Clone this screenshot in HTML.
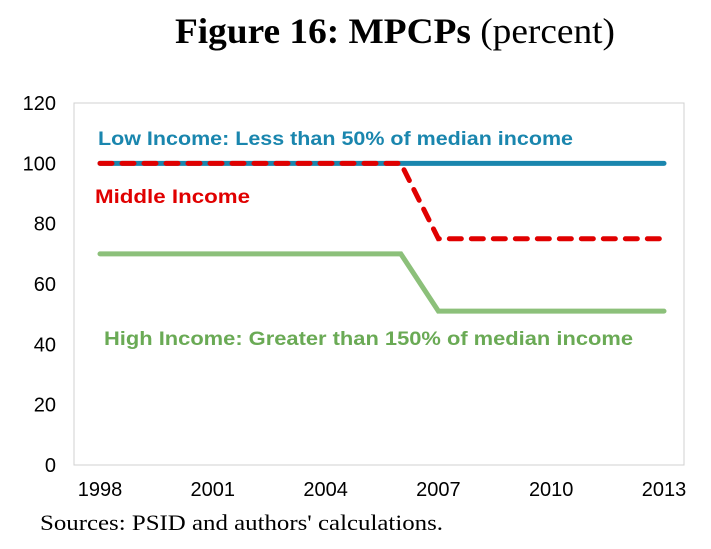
<!DOCTYPE html>
<html><head><meta charset="utf-8"><style>
body{margin:0;background:#fff;width:711px;height:549px;overflow:hidden}
svg{display:block}
</style></head><body>
<svg width="711" height="549" xmlns="http://www.w3.org/2000/svg">
<text x="175" y="43" font-family="Liberation Serif, serif" font-size="36" textLength="440" lengthAdjust="spacingAndGlyphs"><tspan font-weight="bold">Figure 16: MPCPs</tspan> (percent)</text>
<rect x="74" y="103" width="610" height="362" fill="none" stroke="#d0d0d0" stroke-width="1"/>
<g id="yticks"></g><g id="xticks"></g><g id="series"></g>
<text x="98" y="145" font-family="Liberation Sans, sans-serif" font-weight="bold" font-size="19" fill="#1a86ae" textLength="475" lengthAdjust="spacingAndGlyphs">Low Income: Less than 50% of median income</text>
<text x="95" y="203" font-family="Liberation Sans, sans-serif" font-weight="bold" font-size="19" fill="#e00000" textLength="155" lengthAdjust="spacingAndGlyphs">Middle Income</text>
<text x="104" y="345" font-family="Liberation Sans, sans-serif" font-weight="bold" font-size="19" fill="#6aaa55" textLength="529" lengthAdjust="spacingAndGlyphs">High Income: Greater than 150% of median income</text>
<text x="40" y="530" font-family="Liberation Serif, serif" font-size="22" textLength="403" lengthAdjust="spacingAndGlyphs">Sources: PSID and authors' calculations.</text>
</svg>
<script>
const years=[1998,2006,2007,2013];
const lowVals=[100,100,100,100];
const midVals=[100,100,75,75];
const highVals=[70,70,51,51];
const yTickVals=[0,20,40,60,80,100,120];
const xTickLabels=[1998,2001,2004,2007,2010,2013];
const NS="http://www.w3.org/2000/svg";
const X=y=>100+(y-1998)*(564/15);
const Y=v=>465-v*(362/120);
const yt=document.getElementById('yticks');
yTickVals.forEach(v=>{const t=document.createElementNS(NS,'text');
t.setAttribute('x',56);t.setAttribute('y',Y(v)+7);t.setAttribute('text-anchor','end');
t.setAttribute('font-family','Liberation Sans, sans-serif');t.setAttribute('font-size','20');


t.textContent=v;yt.appendChild(t);});
const xt=document.getElementById('xticks');
xTickLabels.forEach(v=>{const t=document.createElementNS(NS,'text');
t.setAttribute('x',X(v));t.setAttribute('y',496);t.setAttribute('text-anchor','middle');
t.setAttribute('font-family','Liberation Sans, sans-serif');t.setAttribute('font-size','20');


t.textContent=v;xt.appendChild(t);});
const sg=document.getElementById('series');
function line(vals,color,dash,name){const p=document.createElementNS(NS,'polyline');
p.setAttribute('points',vals.map((v,i)=>X(years[i])+','+Y(v)).join(' '));
p.setAttribute('fill','none');p.setAttribute('stroke',color);p.setAttribute('stroke-width','5');
p.setAttribute('stroke-linecap','round');if(dash)p.setAttribute('stroke-dasharray',dash);


sg.appendChild(p);}
line(lowVals,'#1a86ae',null,'low-income-line');
line(highVals,'#8cc07a',null,'high-income-line');
line(midVals,'#e00000','12 10','middle-income-line');
</script>
</body></html>
